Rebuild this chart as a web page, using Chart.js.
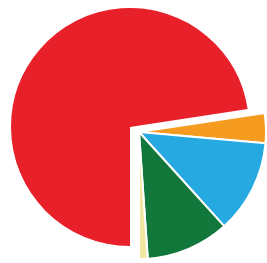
<!DOCTYPE html>
<html>
<head>
<meta charset="utf-8">
<script src="https://cdn.jsdelivr.net/npm/chart.js@4"></script>
<style>
  html, body { margin: 0; padding: 0; background: #fff; }
  body { width: 267px; height: 263px; position: relative; overflow: hidden; }
  canvas { position: absolute; }
  #mainPie { left: 11px; top: 8px; }
  #restPie { left: 11px; top: 4px; }
</style>
</head>
<body>
<canvas id="mainPie" width="238" height="238"></canvas>
<canvas id="restPie" width="256" height="256"></canvas>
<script>
// slice values (percent)
const labels = ["Red", "Orange", "Blue", "Green", "Yellow"];
const values = [72.6, 3.8, 11.9, 10.6, 1.1];
const colors = ["#e8202a", "#f49b20", "#26a9e1", "#11773b", "#f1e7a2"];

// the red slice sits on its own, the others are pulled out as one group
function makePie(id, showIndex) {
  const bg = colors.map((c, i) => showIndex(i) ? c : "rgba(0,0,0,0)");
  const bw = values.map((v, i) => showIndex(i) && i > 0 ? 2 : 0);
  return new Chart(document.getElementById(id), {
    type: "pie",
    data: {
      labels,
      datasets: [{
        data: values,
        backgroundColor: bg,
        borderColor: "#ffffff",
        borderWidth: bw
      }]
    },
    options: {
      responsive: false,
      animation: false,
      rotation: 180,
      layout: { padding: 0 },
      plugins: { legend: { display: false }, tooltip: { enabled: false } }
    }
  });
}

makePie("mainPie", i => i === 0);
makePie("restPie", i => i !== 0);
</script>
</body>
</html>
